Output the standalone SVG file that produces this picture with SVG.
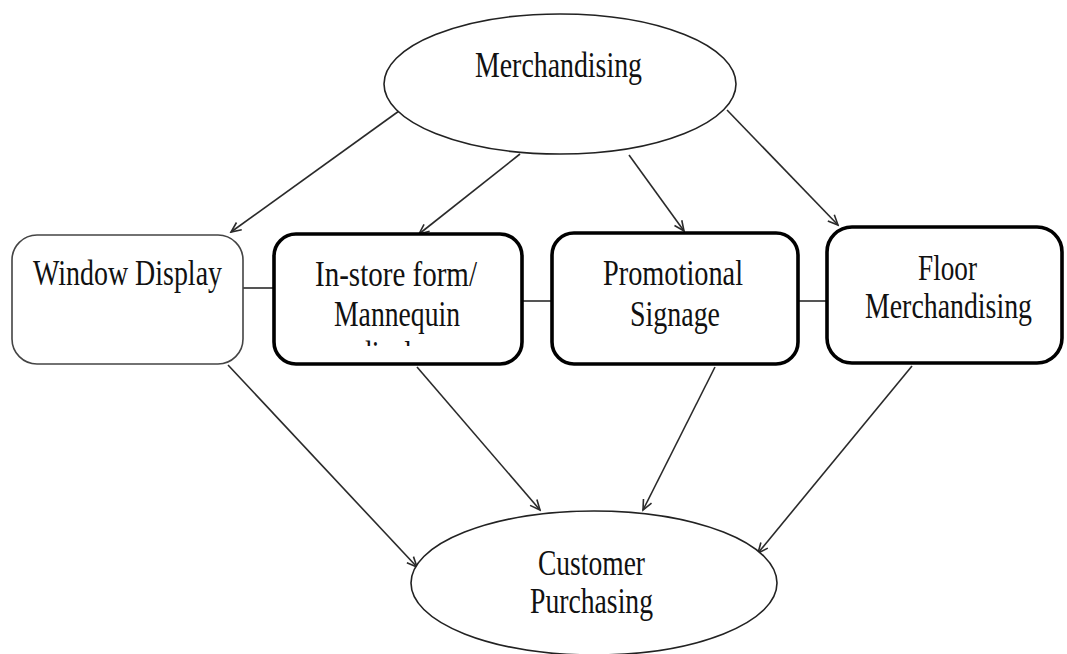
<svg xmlns="http://www.w3.org/2000/svg" width="1067" height="654" viewBox="0 0 1067 654">
<defs>
<style>
.t{font-family:"Liberation Serif","Times New Roman",serif;font-size:28px;fill:#111;text-anchor:middle;}
.ell{fill:#fff;stroke:#222;stroke-width:1.6;}
.thin{fill:#fff;stroke:#444;stroke-width:1.6;}
.thick{fill:#fff;stroke:#000;stroke-width:3.6;}
.c{stroke:#2a2a2a;stroke-width:1.6;fill:none;}
.a{stroke:#2a2a2a;stroke-width:1.6;fill:none;marker-end:url(#ah);}
</style>
<marker id="ah" markerUnits="userSpaceOnUse" markerWidth="14" markerHeight="14" viewBox="-12 -7 14 14" refX="0" refY="0" orient="auto">
<path d="M-10,-4.5 L0,0 L-10,4.5" fill="none" stroke="#2a2a2a" stroke-width="1.6"/>
</marker>
<clipPath id="clipDisp"><rect x="274" y="330" width="248" height="16"/></clipPath>
</defs>
<rect width="1067" height="654" fill="#fff"/>

<g id="connectors">
<line class="c" x1="243" y1="288" x2="274" y2="288"/>
<line class="c" x1="522" y1="301" x2="552" y2="301"/>
<line class="c" x1="798" y1="301" x2="827" y2="301"/>
<line class="a" x1="399" y1="111" x2="231" y2="232"/>
<line class="a" x1="520" y1="154" x2="419" y2="234"/>
<line class="a" x1="629" y1="155" x2="684" y2="231"/>
<line class="a" x1="727" y1="110" x2="838" y2="225"/>
<line class="a" x1="228" y1="365" x2="417" y2="567"/>
<line class="a" x1="417" y1="367" x2="540" y2="510"/>
<line class="a" x1="715" y1="367" x2="643" y2="510"/>
<line class="a" x1="912" y1="366" x2="758" y2="553"/>
</g>

<g id="merchandising">
<ellipse class="ell" cx="560" cy="84" rx="176" ry="70"/>
<text class="t" transform="translate(558.5,77) scale(1,1.3)" textLength="167" lengthAdjust="spacingAndGlyphs">Merchandising</text>
</g>

<g id="window-display">
<rect class="thin" x="12" y="235" width="231" height="129" rx="25" ry="25"/>
<text class="t" transform="translate(127.5,285) scale(1,1.3)" textLength="189" lengthAdjust="spacingAndGlyphs">Window Display</text>
</g>

<g id="instore-form">
<rect class="thick" x="274" y="234" width="248" height="130" rx="22" ry="22"/>
<text class="t" transform="translate(396,286) scale(1,1.3)" textLength="162" lengthAdjust="spacingAndGlyphs">In-store form/</text>
<text class="t" transform="translate(397,326) scale(1,1.3)" textLength="126" lengthAdjust="spacingAndGlyphs">Mannequin</text>
<g clip-path="url(#clipDisp)">
<text class="t" transform="translate(398,366) scale(1,1.3)" textLength="80" lengthAdjust="spacingAndGlyphs">display</text>
</g>
</g>

<g id="promotional-signage">
<rect class="thick" x="552" y="233" width="246" height="131" rx="22" ry="22"/>
<text class="t" transform="translate(673,285) scale(1,1.3)" textLength="140" lengthAdjust="spacingAndGlyphs">Promotional</text>
<text class="t" transform="translate(675,326) scale(1,1.3)" textLength="90" lengthAdjust="spacingAndGlyphs">Signage</text>
</g>

<g id="floor-merchandising">
<rect class="thick" x="827" y="227" width="235" height="136" rx="25" ry="25"/>
<text class="t" transform="translate(947.5,280) scale(1,1.3)" textLength="59" lengthAdjust="spacingAndGlyphs">Floor</text>
<text class="t" transform="translate(948.5,318) scale(1,1.3)" textLength="167" lengthAdjust="spacingAndGlyphs">Merchandising</text>
</g>

<g id="customer-purchasing">
<ellipse class="ell" cx="594" cy="583" rx="183" ry="72"/>
<text class="t" transform="translate(591.5,575) scale(1,1.3)" textLength="107" lengthAdjust="spacingAndGlyphs">Customer</text>
<text class="t" transform="translate(591.5,613) scale(1,1.3)" textLength="123" lengthAdjust="spacingAndGlyphs">Purchasing</text>
</g>
</svg>
